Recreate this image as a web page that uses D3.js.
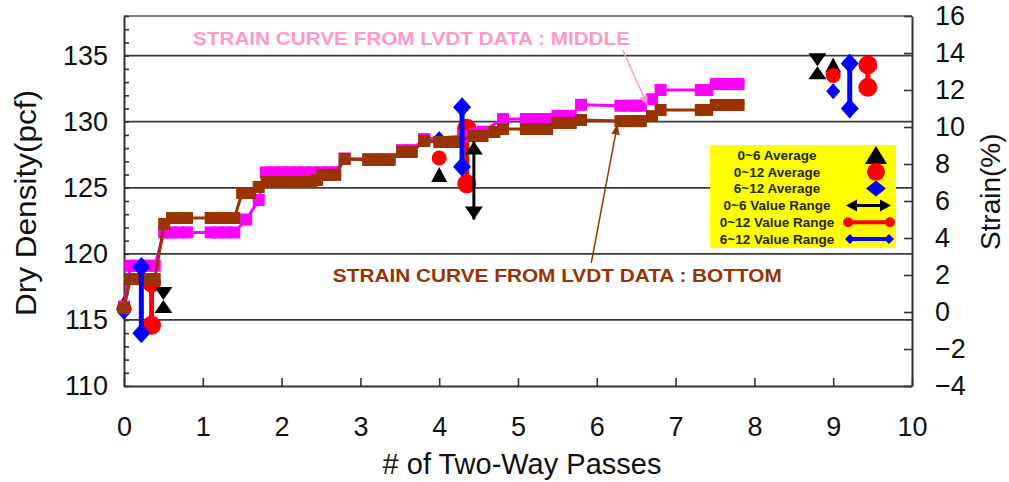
<!DOCTYPE html>
<html>
<head>
<meta charset="utf-8">
<script src="https://cdn.jsdelivr.net/npm/d3@7"></script>
<style>
  body { margin: 0; background: #fff; }
  svg { display: block; font-family: "Liberation Sans", Arial, sans-serif; }
</style>
</head>
<body>
<svg id="chart" width="1009" height="482"></svg>
<script>
// LVDT strain curves: two-way passes vs strain (%)
const middlePasses = [0, 0.08, 0.15, 0.22, 0.3, 0.39, 0.51, 0.6, 0.7, 0.8, 1.1, 1.2, 1.3, 1.4, 1.55, 1.71,
  1.8, 1.9, 2.0, 2.1, 2.2, 2.3, 2.4, 2.5, 2.6, 2.68, 2.8, 3.1, 3.2, 3.3, 3.37, 3.53, 3.65, 3.81,
  4.3, 4.45, 4.55, 4.81, 5.1, 5.2, 5.3, 5.37, 5.5, 5.6, 5.67, 5.8, 6.3, 6.4, 6.5, 6.56, 6.7, 6.81,
  7.32, 7.4, 7.51, 7.6, 7.7, 7.8];
const middleStrain = [0.3, 2.5, 2.5, 2.5, 2.5, 2.5, 4.3, 4.3, 4.3, 4.3, 4.3, 4.3, 4.3, 4.3, 5.0, 6.05,
  7.55, 7.55, 7.55, 7.55, 7.55, 7.55, 7.55, 7.55, 7.55, 7.55, 8.3, 8.27, 8.27, 8.27, 8.27, 8.75, 8.75, 9.35,
  9.5, 9.65, 9.75, 10.43, 10.43, 10.43, 10.43, 10.43, 10.6, 10.6, 10.6, 11.2, 11.15, 11.15, 11.15, 11.15, 11.5, 12.0,
  12.0, 12.0, 12.32, 12.32, 12.32, 12.32];

const bottomPasses = [0, 0.08, 0.15, 0.22, 0.3, 0.39, 0.51, 0.61, 0.7, 0.8, 1.1, 1.2, 1.3, 1.4, 1.5, 1.6, 1.71,
  1.81, 1.9, 2.0, 2.1, 2.2, 2.3, 2.38, 2.45, 2.52, 2.6, 2.68, 2.8, 3.1, 3.2, 3.3, 3.37, 3.53, 3.65, 3.81,
  4.0, 4.1, 4.19, 4.44, 4.55, 4.7, 4.81, 5.1, 5.2, 5.3, 5.37, 5.5, 5.6, 5.67, 5.8, 6.3, 6.4, 6.5, 6.56,
  6.7, 6.81, 7.32, 7.4, 7.51, 7.6, 7.7, 7.8];
const bottomStrain = [0.2, 1.78, 1.78, 1.78, 1.78, 1.78, 4.76, 5.08, 5.08, 5.08, 5.08, 5.08, 5.08, 5.08, 6.43, 6.43, 6.76,
  7.03, 7.03, 7.03, 7.03, 7.03, 7.03, 7.03, 7.14, 7.41, 7.41, 7.41, 8.27, 8.22, 8.22, 8.22, 8.22, 8.65, 8.65, 9.24,
  9.19, 9.19, 9.19, 9.51, 9.51, 9.73, 9.89, 9.89, 9.89, 9.89, 9.89, 10.22, 10.22, 10.22, 10.38, 10.32, 10.32, 10.32, 10.32,
  10.59, 10.92, 10.92, 10.92, 11.19, 11.19, 11.19, 11.19];

// Dry density averages (pcf) at each pass group
const avgPasses = [0, 4, 9];
const avg0to6 = [116.3, 126.0, 134.3];
const avg0to12 = [115.9, 127.25, 133.5];
const avg6to12 = [115.6, 128.7, 132.3];

// Dry density value ranges (pcf): position, low, high
const range0to6Passes = [0.5, 4.44, 8.8];
const range0to6Low = [116.5, 122.6, 134.2];
const range0to6High = [116.5, 128.5, 134.2];
const range0to12Passes = [0.35, 4.35, 9.44];
const range0to12Low = [114.6, 125.3, 132.6];
const range0to12High = [117.8, 129.5, 134.3];
const range6to12Passes = [0.22, 4.29, 9.21];
const range6to12Low = [114.0, 126.6, 131.0];
const range6to12High = [119.0, 131.1, 134.4];

// Axis ticks
const passTicks = [0, 1, 2, 3, 4, 5, 6, 7, 8, 9, 10];
const densityTicks = [110, 115, 120, 125, 130, 135];
const strainTicks = [-4, -2, 0, 2, 4, 6, 8, 10, 12, 14, 16];

const legendLabels = ["0~6 Average", "0~12 Average", "6~12 Average",
  "0~6 Value Range", "0~12 Value Range", "6~12 Value Range"];

const MAGENTA = "#ff00ff", BROWN = "#993300", PINK = "#ff99cc";
const BLUE = "#0000ff", RED = "#ff0000", BLACK = "#000000";

const svg = d3.select("#chart");
const plot = { left: 124, right: 912, top: 16, bottom: 386 };

const x = d3.scaleLinear().domain([0, 10]).range([plot.left, plot.right]);
const yL = d3.scaleLinear().domain([110, 138]).range([plot.bottom, plot.top]);
const yR = d3.scaleLinear().domain([-4, 16]).range([plot.bottom, plot.top]);

// Horizontal grid lines at the labelled density values
svg.append("g")
  .selectAll("line")
  .data(densityTicks.filter(d => d > 110))
  .join("line")
  .attr("x1", plot.left).attr("x2", plot.right)
  .attr("y1", d => yL(d)).attr("y2", d => yL(d))
  .attr("stroke", "#3a3a3a").attr("stroke-width", 1.8);

// Top border
svg.append("line")
  .attr("x1", plot.left).attr("x2", plot.right)
  .attr("y1", plot.top).attr("y2", plot.top)
  .attr("stroke", "#555").attr("stroke-width", 1.6);

function styleAxis(g) {
  g.select(".domain").attr("stroke", "#333").attr("stroke-width", 2);
  g.selectAll(".tick line").attr("stroke", "#333").attr("stroke-width", 1.6);
  g.selectAll(".tick text").attr("font-size", 27).attr("fill", "#111")
    .attr("font-family", "'Liberation Sans', Arial, sans-serif");
}

svg.append("g")
  .attr("transform", `translate(${plot.left},0)`)
  .call(d3.axisLeft(yL).tickValues(d3.range(110, 139)).tickSize(-5).tickSizeOuter(0).tickPadding(16)
    .tickFormat(d => densityTicks.includes(d) ? d : ""))
  .call(styleAxis);

svg.append("g")
  .attr("transform", `translate(0,${plot.bottom})`)
  .call(d3.axisBottom(x).tickValues(passTicks).tickSize(-8).tickSizeOuter(0).tickPadding(31)
    .tickFormat(d3.format("d")))
  .call(styleAxis);

svg.append("g")
  .attr("transform", `translate(${plot.right},0)`)
  .call(d3.axisRight(yR).tickValues(strainTicks).tickSize(-8).tickSizeOuter(0).tickPadding(23))
  .call(styleAxis);

// Axis titles
svg.append("text")
  .attr("transform", `translate(36,${(plot.top + plot.bottom) / 2 + 2}) rotate(-90)`)
  .attr("text-anchor", "middle").attr("font-size", 29).attr("fill", "#111")
  .attr("textLength", 226).attr("lengthAdjust", "spacingAndGlyphs")
  .text("Dry Density(pcf)");

svg.append("text")
  .attr("x", (plot.left + plot.right) / 2 + 4).attr("y", 474)
  .attr("text-anchor", "middle").attr("font-size", 29).attr("fill", "#111")
  .text("# of Two-Way Passes");

svg.append("text")
  .attr("transform", `translate(1000,${yR(6.5)}) rotate(-90)`)
  .attr("text-anchor", "middle").attr("font-size", 28).attr("fill", "#111")
  .text("Strain(%)");

// Symbol helpers
const trianglePath = (cx, cy, w, h, up) => up
  ? `M${cx},${cy - h / 2}L${cx + w / 2},${cy + h / 2}L${cx - w / 2},${cy + h / 2}Z`
  : `M${cx},${cy + h / 2}L${cx + w / 2},${cy - h / 2}L${cx - w / 2},${cy - h / 2}Z`;
const diamondPath = (cx, cy, w, h) =>
  `M${cx},${cy - h / 2}L${cx + w / 2},${cy}L${cx},${cy + h / 2}L${cx - w / 2},${cy}Z`;
// arrowhead with its tip at (cx, tipY), pointing up or down
const arrowHeadPath = (cx, tipY, w, h, up) => up
  ? `M${cx},${tipY}L${cx + w / 2},${tipY + h}L${cx - w / 2},${tipY + h}Z`
  : `M${cx},${tipY}L${cx + w / 2},${tipY - h}L${cx - w / 2},${tipY - h}Z`;

// Average markers
const avgLayer = svg.append("g");
avgLayer.selectAll(".avg6").data(avgPasses.map((p, i) => [p, avg0to6[i]])).join("path")
  .attr("d", d => trianglePath(x(d[0]), yL(d[1]), 16, 15, true)).attr("fill", BLACK);
avgLayer.selectAll(".avg12").data(avgPasses.map((p, i) => [p, avg0to12[i]])).join("circle")
  .attr("cx", d => x(d[0])).attr("cy", d => yL(d[1])).attr("r", 7.5).attr("fill", RED);
avgLayer.selectAll(".avg612").data(avgPasses.map((p, i) => [p, avg6to12[i]])).join("path")
  .attr("d", d => diamondPath(x(d[0]), yL(d[1]), 14, 16)).attr("fill", BLUE);

// 0~12 value ranges
const r12 = range0to12Passes.map((p, i) => ({ p, lo: range0to12Low[i], hi: range0to12High[i] }));
const redLayer = svg.append("g");
redLayer.selectAll("line").data(r12).join("line")
  .attr("x1", d => x(d.p)).attr("x2", d => x(d.p))
  .attr("y1", d => yL(d.lo)).attr("y2", d => yL(d.hi))
  .attr("stroke", RED).attr("stroke-width", 5);
redLayer.selectAll("circle").data(r12.flatMap(d => [[d.p, d.lo], [d.p, d.hi]])).join("circle")
  .attr("cx", d => x(d[0])).attr("cy", d => yL(d[1])).attr("r", 9.5).attr("fill", RED);

// Strain curves
function drawStrain(passes, strain, color) {
  const pts = passes.map((p, i) => [p, strain[i]]);
  const g = svg.append("g");
  g.append("path")
    .attr("d", d3.line().x(d => x(d[0])).y(d => yR(d[1]))(pts))
    .attr("fill", "none").attr("stroke", color).attr("stroke-width", 3);
  g.selectAll("rect").data(pts).join("rect")
    .attr("x", d => x(d[0]) - 6).attr("y", d => yR(d[1]) - 6)
    .attr("width", 12).attr("height", 12).attr("fill", color);
}
drawStrain(middlePasses, middleStrain, MAGENTA);
drawStrain(bottomPasses, bottomStrain, BROWN);

// 6~12 value ranges
const r612 = range6to12Passes.map((p, i) => ({ p, lo: range6to12Low[i], hi: range6to12High[i] }));
const blueLayer = svg.append("g");
blueLayer.selectAll("line").data(r612).join("line")
  .attr("x1", d => x(d.p)).attr("x2", d => x(d.p))
  .attr("y1", d => yL(d.lo)).attr("y2", d => yL(d.hi))
  .attr("stroke", BLUE).attr("stroke-width", 5);
blueLayer.selectAll("path").data(r612.flatMap(d => [[d.p, d.lo], [d.p, d.hi]])).join("path")
  .attr("d", d => diamondPath(x(d[0]), yL(d[1]), 18, 20)).attr("fill", BLUE);

// 0~6 value ranges (double-headed arrows)
const r6 = range0to6Passes.map((p, i) => ({ p, lo: range0to6Low[i], hi: range0to6High[i] }));
const blackLayer = svg.append("g");
blackLayer.selectAll("line").data(r6).join("line")
  .attr("x1", d => x(d.p)).attr("x2", d => x(d.p))
  .attr("y1", d => yL(d.lo)).attr("y2", d => yL(d.hi))
  .attr("stroke", BLACK).attr("stroke-width", 3);
blackLayer.selectAll(".up").data(r6).join("path")
  .attr("d", d => arrowHeadPath(x(d.p), yL(d.hi), 18, 13, true)).attr("fill", BLACK);
blackLayer.selectAll(".down").data(r6).join("path")
  .attr("d", d => arrowHeadPath(x(d.p), yL(d.lo), 18, 13, false)).attr("fill", BLACK);

// Curve annotations
const defs = svg.append("defs");
[["tipPink", PINK], ["tipBrown", BROWN]].forEach(([id, c]) => {
  defs.append("marker").attr("id", id).attr("viewBox", "0 0 10 10")
    .attr("refX", 9).attr("refY", 5).attr("markerWidth", 7).attr("markerHeight", 7)
    .attr("orient", "auto")
    .append("path").attr("d", "M0,1L10,5L0,9Z").attr("fill", c);
});

svg.append("line")
  .attr("x1", x(6.33)).attr("y1", yR(14.16)).attr("x2", x(6.64)).attr("y2", yR(11.2))
  .attr("stroke", PINK).attr("stroke-width", 1.5).attr("marker-end", "url(#tipPink)");
svg.append("text")
  .attr("x", x(0.876)).attr("y", yR(14.43))
  .attr("font-size", 18).attr("font-weight", "bold").attr("fill", PINK)
  .attr("textLength", 437).attr("lengthAdjust", "spacingAndGlyphs")
  .text("STRAIN CURVE FROM LVDT DATA : MIDDLE");

svg.append("line")
  .attr("x1", x(5.93)).attr("y1", yR(2.65)).attr("x2", x(6.26)).attr("y2", yR(10.1))
  .attr("stroke", BROWN).attr("stroke-width", 1.5).attr("marker-end", "url(#tipBrown)");
svg.append("text")
  .attr("x", x(2.65)).attr("y", yR(1.62))
  .attr("font-size", 18).attr("font-weight", "bold").attr("fill", BROWN)
  .attr("textLength", 449).attr("lengthAdjust", "spacingAndGlyphs")
  .text("STRAIN CURVE FROM LVDT DATA : BOTTOM");

// Legend
const legend = svg.append("g").attr("transform", "translate(710,145)");
legend.append("rect").attr("width", 186).attr("height", 103).attr("fill", "#ffff00");
const rowY = i => 10 + i * 16.8;
legend.selectAll("text").data(legendLabels).join("text")
  .attr("x", 67).attr("y", (d, i) => rowY(i)).attr("dy", "0.35em")
  .attr("text-anchor", "middle").attr("font-size", 13.5).attr("font-weight", "bold")
  .attr("fill", "#262600").text(d => d);
const sx = 166;
legend.append("path").attr("d", trianglePath(sx, rowY(0), 22, 18, true)).attr("fill", BLACK);
legend.append("circle").attr("cx", sx).attr("cy", rowY(1)).attr("r", 9).attr("fill", RED);
legend.append("path").attr("d", diamondPath(sx, rowY(2), 20, 16)).attr("fill", BLUE);
legend.append("line").attr("x1", 140).attr("x2", 177).attr("y1", rowY(3)).attr("y2", rowY(3))
  .attr("stroke", BLACK).attr("stroke-width", 3);
legend.append("path").attr("d", `M136,${rowY(3)}L147,${rowY(3) - 6}L147,${rowY(3) + 6}Z`).attr("fill", BLACK);
legend.append("path").attr("d", `M181,${rowY(3)}L170,${rowY(3) - 6}L170,${rowY(3) + 6}Z`).attr("fill", BLACK);
legend.append("line").attr("x1", 138).attr("x2", 180).attr("y1", rowY(4)).attr("y2", rowY(4))
  .attr("stroke", RED).attr("stroke-width", 4);
legend.selectAll(".rc").data([138, 180]).join("circle")
  .attr("cx", d => d).attr("cy", rowY(4)).attr("r", 5).attr("fill", RED);
legend.append("line").attr("x1", 140).attr("x2", 179).attr("y1", rowY(5)).attr("y2", rowY(5))
  .attr("stroke", BLUE).attr("stroke-width", 4);
legend.selectAll(".bd").data([140, 179]).join("path")
  .attr("d", d => diamondPath(d, rowY(5), 10, 10)).attr("fill", BLUE);
</script>
</body>
</html>
